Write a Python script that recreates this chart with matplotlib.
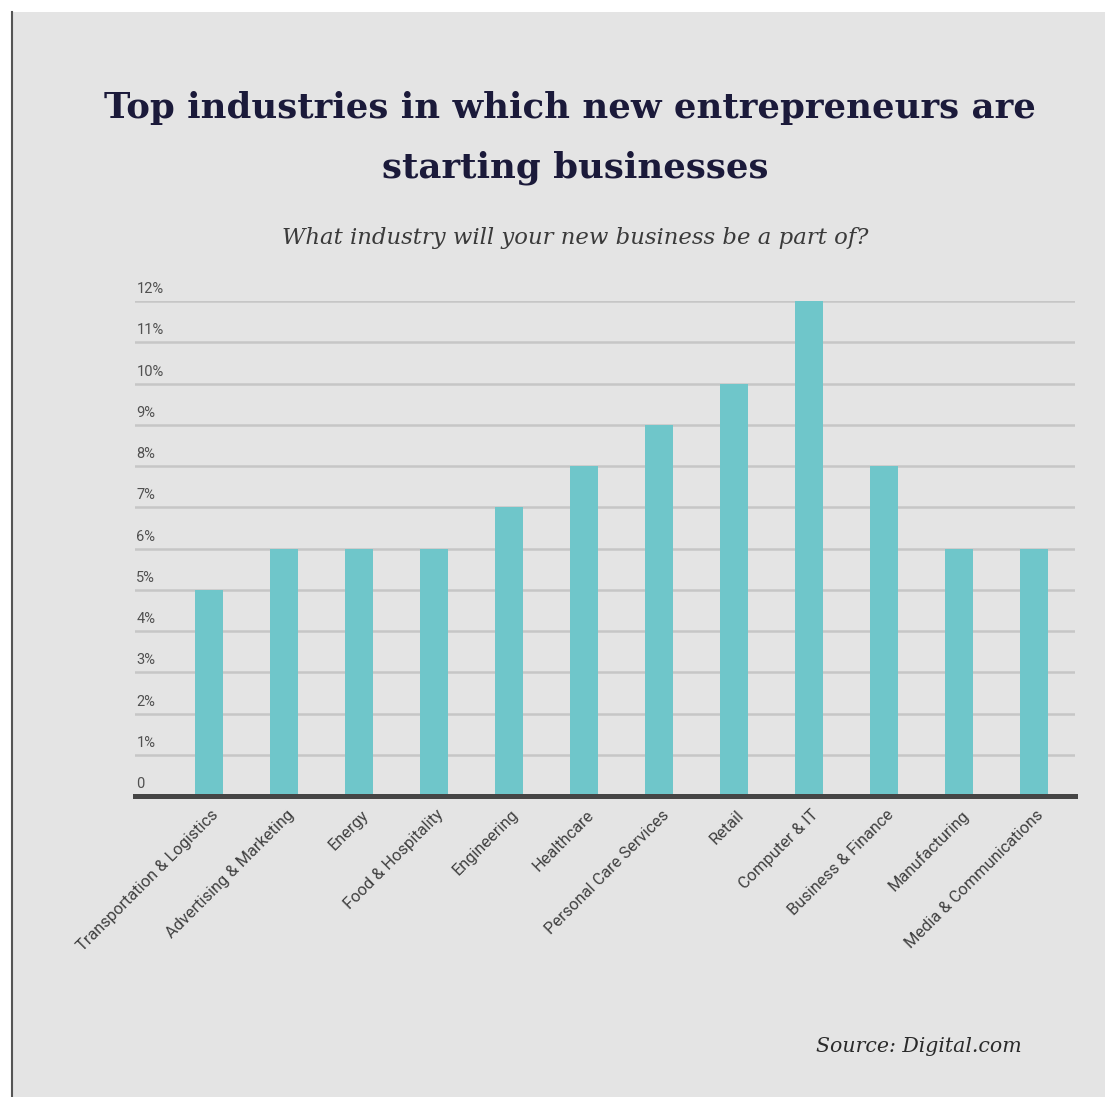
import matplotlib.pyplot as plt
from matplotlib.patches import Rectangle
from matplotlib.lines import Line2D
import matplotlib.transforms as mtransforms

industries = [
    "Transportation & Logistics", "Advertising & Marketing", "Energy",
    "Food & Hospitality", "Engineering", "Healthcare",
    "Personal Care Services", "Retail", "Computer & IT",
    "Business & Finance", "Manufacturing", "Media & Communications",
]
shares = [5, 6, 6, 6, 7, 8, 9, 10, 12, 8, 6, 6]
y_ticks = list(range(0, 13))
y_labels = ["0"] + [f"{v}%" for v in y_ticks[1:]]

W, H = 1105, 1097
bg = "#e4e4e4"
bar_color = "#6fc6ca"

fig = plt.figure(figsize=(W / 100, H / 100), dpi=100, facecolor="white")

# grey panel with a dark rule down its left edge
fig.patches.append(Rectangle((13 / W, 0), 1, (H - 12) / H, transform=fig.transFigure,
                             facecolor=bg, edgecolor="none", zorder=-2))
fig.lines.append(Line2D([12 / W, 12 / W], [0, (H - 12) / H], transform=fig.transFigure,
                        color="#555555", lw=1.5, zorder=-1))

ax = fig.add_axes([135 / W, (H - 796) / H, 940 / W, 495 / H])
ax.set_facecolor("none")

x = list(range(len(industries)))
ax.bar(x, shares, width=0.373, color=bar_color, zorder=3)

ax.set_xlim(-0.987, 11.547)
ax.set_ylim(0, 12)

for v in y_ticks[1:]:
    ax.axhline(v, color="#c6c6c6", lw=1.8, zorder=1)
ax.axhline(0, color="#454545", lw=3.6, zorder=4, clip_on=False)

for spine in ax.spines.values():
    spine.set_visible(False)
ax.set_yticks([])

trans = mtransforms.blended_transform_factory(ax.transAxes, ax.transData)
for v, lab in zip(y_ticks, y_labels):
    ax.annotate(lab, xy=(0.0, v), xycoords=trans, xytext=(1, 3.5), textcoords="offset points",
                ha="left", va="bottom", fontsize=10.5, color="#505050", family="Roboto")

ax.set_xticks(x)
ax.set_xticklabels(industries, rotation=45, ha="right", rotation_mode="anchor",
                   fontsize=11.8, color="#404040", family="Roboto")
ax.tick_params(axis="x", length=0, pad=8)
offset = mtransforms.ScaledTranslation(2 / 100, 0, fig.dpi_scale_trans)
for lbl in ax.get_xticklabels():
    lbl.set_transform(lbl.get_transform() + offset)

fig.text(570 / W, 1 - 108 / H, "Top industries in which new entrepreneurs are",
         ha="center", va="center", fontsize=25.6, fontweight="bold",
         family="DejaVu Serif", color="#1b1a3a")
fig.text(575 / W, 1 - 168 / H, "starting businesses",
         ha="center", va="center", fontsize=25.6, fontweight="bold",
         family="DejaVu Serif", color="#1b1a3a")
fig.text(575 / W, 1 - 238 / H, "What industry will your new business be a part of?",
         ha="center", va="center", fontsize=16.4, style="italic",
         family="DejaVu Serif", color="#3a3a3a")
fig.text(1022 / W, 1 - 1047 / H, "Source: Digital.com",
         ha="right", va="center", fontsize=14.8, style="italic",
         family="DejaVu Serif", color="#2a2a2a")

fig.savefig("out.png", dpi=100, facecolor=fig.get_facecolor())
